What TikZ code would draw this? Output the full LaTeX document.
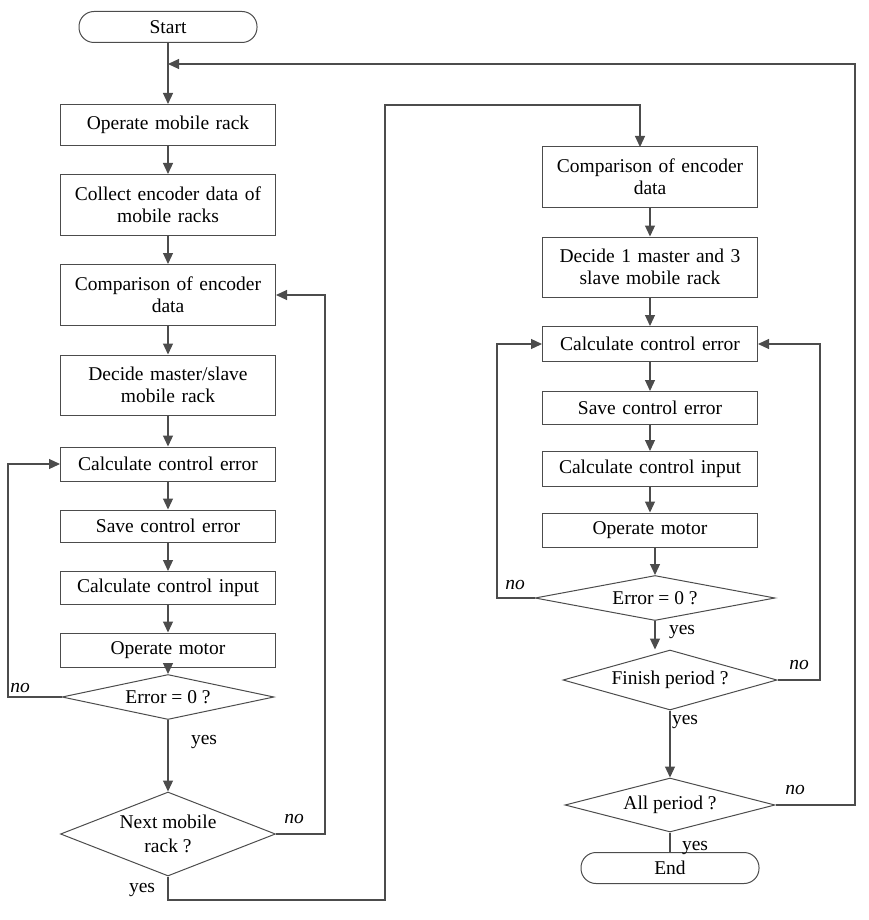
\documentclass[tikz,border=0pt]{standalone}
\usepackage{fontspec}
\setmainfont{Liberation Serif}
\usetikzlibrary{shapes.geometric,arrows.meta}
\begin{document}
\begin{tikzpicture}[x=1pt,y=-1pt,
  line/.style={draw=black!70,line width=1.2pt},
  arr/.style={line,-{Triangle[length=11pt,width=10pt]}},
  box/.style={draw=black!70,line width=1pt,minimum width=215pt,text width=205pt,align=center,font=\fontsize{19.5}{22}\selectfont,inner sep=2pt},
  term/.style={box,rounded corners=15pt,minimum width=178pt,text width=170pt,minimum height=31pt},
  dec/.style={draw=black!70,line width=1pt,diamond,aspect=4.7,inner sep=0pt,align=center,font=\fontsize{19.5}{24}\selectfont},
  lab/.style={font=\fontsize{19.5}{22}\selectfont},
  nol/.style={font=\itshape\fontsize{19.5}{22}\selectfont}]
\useasboundingbox (0,0) rectangle (868,920);
% left column
\node[term] (start) at (168,27) {Start};
\coordinate (j1) at (168,64);
\node[box,minimum height=41pt] (op) at (168,125) {Operate mobile rack};
\node[box,minimum height=61pt] (col) at (168,205) {Collect encoder data of\\mobile racks};
\node[box,minimum height=61pt] (cmp) at (168,295) {Comparison of encoder\\data};
\node[box,minimum height=60pt] (dec) at (168,385) {Decide master/slave\\mobile rack};
\node[box,minimum height=34pt] (ce) at (168,464) {Calculate control error};
\node[box,minimum height=32pt] (se) at (168,526) {Save control error};
\node[box,minimum height=33pt] (ci) at (168,588) {Calculate control input};
\node[box,minimum height=34pt] (om) at (168,650) {Operate motor};
\node[dec,minimum width=212pt,minimum height=45pt] (e0) at (168,697) {Error = 0 ?};
\node[dec,minimum width=215pt,minimum height=84pt,aspect=2.6] (nx) at (168,834) {Next mobile\\rack ?};
% right column
\node[box,minimum height=60pt] (cmp2) at (650,177) {Comparison of encoder\\data};
\node[box,minimum height=60pt] (dec2) at (650,267) {Decide 1 master and 3\\slave mobile rack};
\node[box,minimum height=35pt] (ce2) at (650,344) {Calculate control error};
\node[box,minimum height=33pt] (se2) at (650,408) {Save control error};
\node[box,minimum height=35pt] (ci2) at (650,469) {Calculate control input};
\node[box,minimum height=34pt] (om2) at (650,530) {Operate motor};
\node[dec,minimum width=240pt,minimum height=45pt] (e02) at (655,598) {Error = 0 ?};
\node[dec,minimum width=214pt,minimum height=60pt,aspect=3.6] (fp) at (670,680) {Finish period ?};
\node[dec,minimum width=210pt,minimum height=54pt,aspect=3.9] (ap) at (670,805) {All period ?};
\node[term] (end) at (670,868) {End};
% connectors
\draw[arr] (start) -- (op);
\draw[arr] (op) -- (col);
\draw[arr] (col) -- (cmp);
\draw[arr] (cmp) -- (dec);
\draw[arr] (dec) -- (ce);
\draw[arr] (ce) -- (se);
\draw[arr] (se) -- (ci);
\draw[arr] (ci) -- (om);
\draw[arr] (om) -- (e0);
\draw[arr] (e0) -- (nx);
\draw[arr] (e0.west) -- (8,697) |- (ce.west);
\draw[arr] (nx.east) -- (325,834) |- (cmp.east);
\draw[arr] (nx.south) -- (168,900) -- (385,900) -- (385,105) -- (640,105) -- (640,147);
\draw[arr] (cmp2) -- (dec2);
\draw[arr] (dec2) -- (ce2);
\draw[arr] (ce2) -- (se2);
\draw[arr] (se2) -- (ci2);
\draw[arr] (ci2) -- (om2);
\draw[arr] (om2.south -| e02.north) -- (e02.north);
\draw[arr] (e02.south) -- (e02.south |- fp.north);
\draw[arr] (fp.south) -- (ap.north);
\draw[line] (ap.south) -- (end.north);
\draw[arr] (e02.west) -- (497,598) |- (ce2.west);
\draw[arr] (fp.east) -- (820,680) |- (ce2.east);
\draw[arr] (ap.east) -- (855,805) -- (855,64) -- (j1);
% labels
\node[lab] (y1) at (204,742) {yes};
\node[lab] (y2) at (142,890) {yes};
\node[lab] (y3) at (682,632) {yes};
\node[lab] (y4) at (685,722) {yes};
\node[lab] (y5) at (695,848) {yes};
\node[nol] (n1) at (20,688) {no};
\node[nol] (n2) at (294,819) {no};
\node[nol] (n3) at (515,585) {no};
\node[nol] (n4) at (799,665) {no};
\node[nol] (n5) at (795,790) {no};
\end{tikzpicture}
\end{document}
